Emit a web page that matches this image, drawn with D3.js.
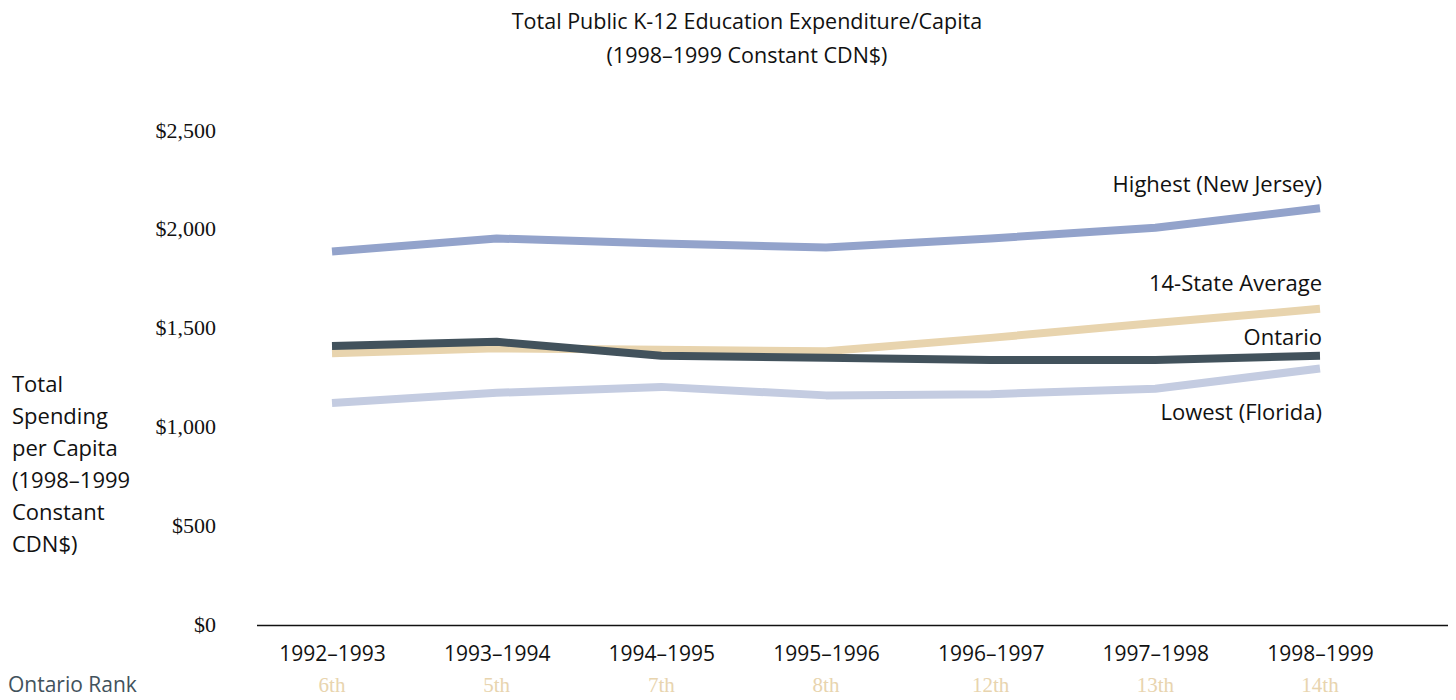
<!DOCTYPE html>
<html>
<head>
<meta charset="utf-8">
<script src="https://cdn.jsdelivr.net/npm/d3@7"></script>
<style>
  html, body { margin: 0; padding: 0; background: #fff; }
  svg { display: block; }
</style>
</head>
<body>
<svg id="chart" width="1456" height="700"></svg>
<script>
// School years on the x axis
const years = ["1992–1993", "1993–1994", "1994–1995", "1995–1996", "1996–1997", "1997–1998", "1998–1999"];

// Spending per capita, 1998–1999 constant CDN$
const highestNewJersey = [1885, 1951, 1926, 1905, 1951, 2005, 2104];
const lowestFlorida    = [1119, 1170, 1200, 1157, 1163, 1191, 1293];
const stateAverage     = [1370, 1395, 1388, 1380, 1448, 1523, 1595];
const ontario          = [1407, 1428, 1357, 1347, 1336, 1336, 1357];

// Ontario's rank among the 14 states plus Ontario
const ontarioRank = ["6th", "5th", "7th", "8th", "12th", "13th", "14th"];

const yTicks = [0, 500, 1000, 1500, 2000, 2500];

const series = [
  { name: "Highest (New Jersey)", values: highestNewJersey, color: "#93a3cb", labelDy: -16 },
  { name: "Lowest (Florida)",     values: lowestFlorida,    color: "#c4cce1", labelDy: 51 },
  { name: "14-State Average",     values: stateAverage,     color: "#e8d4ae", labelDy: -18 },
  { name: "Ontario",              values: ontario,          color: "#42525c", labelDy: -11 }
];

const sans = "'Open Sans', 'DejaVu Sans', sans-serif";
const serif = "'Liberation Serif', 'Times New Roman', serif";

const svg = d3.select("#chart");

const x = d3.scalePoint().domain(years).range([332, 1320]);
const y = d3.scaleLinear().domain([0, 2500]).range([624, 130]);

// Title
svg.append("text")
  .attr("x", 747).attr("y", 29)
  .attr("text-anchor", "middle")
  .style("font-family", sans).style("font-size", "21.5px").attr("fill", "#111")
  .text("Total Public K-12 Education Expenditure/Capita");
svg.append("text")
  .attr("x", 747).attr("y", 63)
  .attr("text-anchor", "middle")
  .style("font-family", sans).style("font-size", "21.5px").attr("fill", "#111")
  .text("(1998–1999 Constant CDN$)");

// Y axis: tick labels only
const yAxis = d3.axisLeft(y)
  .tickValues(yTicks)
  .tickSize(0)
  .tickPadding(0)
  .tickFormat(d => "$" + d3.format(",")(d));
const yG = svg.append("g").attr("transform", "translate(216,0)").call(yAxis);
yG.select(".domain").remove();
yG.selectAll("text")
  .style("font-family", serif).style("font-size", "22px").attr("fill", "#111");

// Y axis title
const yTitle = ["Total", "Spending", "per Capita", "(1998–1999", "Constant", "CDN$)"];
svg.append("text")
  .style("font-family", sans).style("font-size", "22px").attr("fill", "#111")
  .selectAll("tspan").data(yTitle).join("tspan")
  .attr("x", 12).attr("y", (d, i) => 392 + i * 32)
  .text(d => d);

// Baseline
svg.append("line")
  .attr("x1", 257).attr("x2", 1448)
  .attr("y1", y(0) + 1.5).attr("y2", y(0) + 1.5)
  .attr("stroke", "#111").attr("stroke-width", 1.5);

// X axis labels
const xAxis = d3.axisBottom(x).tickSize(0).tickPadding(0);
const xG = svg.append("g").attr("transform", `translate(0,${y(0) + 37})`).call(xAxis);
xG.select(".domain").remove();
xG.selectAll("text")
  .attr("dy", 0)
  .style("font-family", sans).style("font-size", "21px").attr("fill", "#111");

// Ontario rank row
svg.append("text")
  .attr("x", 8).attr("y", 692)
  .style("font-family", sans).style("font-size", "21px").attr("fill", "#42525c")
  .text("Ontario Rank");
svg.append("g").selectAll("text").data(years).join("text")
  .attr("x", d => x(d)).attr("y", 692)
  .attr("text-anchor", "middle")
  .style("font-family", serif).style("font-size", "21px").attr("fill", "#e8d4ae")
  .text((d, i) => ontarioRank[i]);

// Lines
const line = d3.line()
  .x((d, i) => x(years[i]))
  .y(d => y(d));

svg.append("g").selectAll("path").data(series).join("path")
  .attr("d", s => line(s.values))
  .attr("fill", "none")
  .attr("stroke", s => s.color)
  .attr("stroke-width", 8)
  .attr("stroke-linejoin", "round");

// Series labels, right aligned at the last point
svg.append("g").selectAll("text").data(series).join("text")
  .attr("x", x(years[years.length - 1]) + 2)
  .attr("y", s => y(s.values[s.values.length - 1]) + s.labelDy)
  .attr("text-anchor", "end")
  .style("font-family", sans).style("font-size", "22px").attr("fill", "#111")
  .text(s => s.name);
</script>
</body>
</html>
